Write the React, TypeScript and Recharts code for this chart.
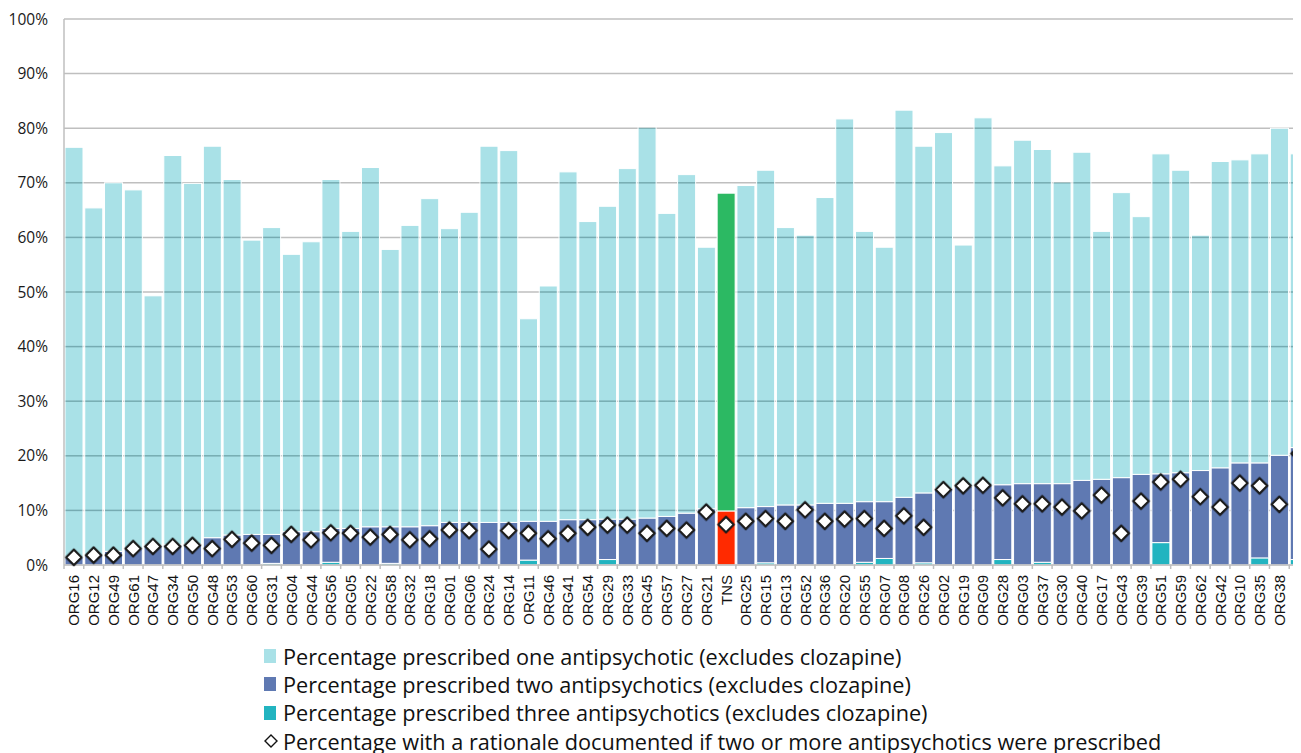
import { Bar, CartesianGrid, Cell, ComposedChart, Line, XAxis, YAxis } from "recharts";

const categories = [
  "ORG16", "ORG12", "ORG49", "ORG61", "ORG47", "ORG34", "ORG50", "ORG48", "ORG53", "ORG60",
  "ORG31", "ORG04", "ORG44", "ORG56", "ORG05", "ORG22", "ORG58", "ORG32", "ORG18", "ORG01",
  "ORG06", "ORG24", "ORG14", "ORG11", "ORG46", "ORG41", "ORG54", "ORG29", "ORG33", "ORG45",
  "ORG57", "ORG27", "ORG21", "TNS", "ORG25", "ORG15", "ORG13", "ORG52", "ORG36", "ORG20",
  "ORG55", "ORG07", "ORG08", "ORG26", "ORG02", "ORG19", "ORG09", "ORG28", "ORG03", "ORG37",
  "ORG30", "ORG40", "ORG17", "ORG43", "ORG39", "ORG51", "ORG59", "ORG62", "ORG42", "ORG10",
  "ORG35", "ORG38", "ORG23",
];

// % prescribed one antipsychotic (excludes clozapine)
const oneAP = [
  75.1, 63.6, 67.5, 65.7, 45.7, 71.3, 66.1, 71.7, 65.1, 53.9,
  56.2, 50.8, 53.1, 63.9, 54.4, 65.8, 50.8, 55.2, 59.9, 53.8,
  56.8, 68.9, 68.1, 37.1, 43.1, 63.7, 54.6, 57.3, 64.2, 71.5,
  55.5, 62.0, 47.9, 58.2, 59.0, 61.6, 50.8, 49.4, 56.0, 70.4,
  49.5, 46.6, 70.9, 63.5, 65.2, 44.2, 67.3, 58.4, 62.9, 61.2,
  55.2, 60.1, 45.4, 52.2, 47.2, 58.6, 55.4, 43.1, 56.1, 55.5,
  56.6, 59.9, 53.8,
];

// % prescribed two antipsychotics (excludes clozapine)
const twoAP = [
  1.4, 1.8, 2.5, 3.0, 3.6, 3.7, 3.8, 5.0, 5.5, 5.6,
  5.3, 6.1, 6.1, 6.2, 6.7, 7.0, 6.7, 7.0, 7.2, 7.8,
  7.8, 7.8, 7.8, 7.1, 8.0, 8.3, 8.3, 7.4, 8.4, 8.6,
  8.9, 9.5, 10.3, 9.9, 10.5, 10.3, 11.0, 11.0, 11.3, 11.3,
  11.1, 10.4, 12.4, 12.8, 14.0, 14.4, 14.6, 13.7, 14.9, 14.4,
  14.9, 15.5, 15.7, 16.0, 16.6, 12.6, 16.9, 17.3, 17.8, 18.7,
  17.4, 20.1, 20.5,
];

// % prescribed three antipsychotics (excludes clozapine)
const threeAP = [
  0, 0, 0, 0, 0, 0, 0, 0, 0, 0,
  0.3, 0, 0, 0.5, 0, 0, 0.3, 0, 0, 0,
  0, 0, 0, 0.9, 0, 0, 0, 1.0, 0, 0,
  0, 0, 0, 0, 0, 0.4, 0, 0, 0, 0,
  0.5, 1.2, 0, 0.4, 0, 0, 0, 1.0, 0, 0.5,
  0, 0, 0, 0, 0, 4.1, 0, 0, 0, 0,
  1.3, 0, 1.0,
];

// % with a rationale documented if two or more antipsychotics prescribed
const rationale = [
  1.4, 1.8, 1.8, 3.0, 3.4, 3.4, 3.6, 3.0, 4.7, 4.0,
  3.6, 5.6, 4.6, 5.9, 5.8, 5.1, 5.6, 4.6, 4.8, 6.4,
  6.3, 2.9, 6.3, 5.8, 4.8, 5.8, 6.9, 7.3, 7.3, 5.8,
  6.7, 6.4, 9.7, 7.4, 8.0, 8.5, 8.0, 10.1, 8.0, 8.4,
  8.5, 6.7, 9.0, 6.9, 13.8, 14.5, 14.6, 12.3, 11.2, 11.2,
  10.6, 9.9, 12.8, 5.8, 11.7, 15.2, 15.7, 12.5, 10.6, 15.0,
  14.5, 11.1, 20.4,
];

const yTicks = [0, 10, 20, 30, 40, 50, 60, 70, 80, 90, 100];

const legendItems = [
  "Percentage prescribed one antipsychotic (excludes clozapine)",
  "Percentage prescribed two antipsychotics (excludes clozapine)",
  "Percentage prescribed three antipsychotics (excludes clozapine)",
  "Percentage with a rationale documented if two or more antipsychotics were prescribed",
];

const LIGHT = "#a9e1e7";
const DARK = "#5f79b2";
const TEAL = "#22b4c0";
const GREEN = "#2cb963";
const RED = "#ff2a00";
const GRID = "#bfbfbf";
const FONT = "'Open Sans', 'Noto Sans', sans-serif";

const CHART_W = 1306;
const Y_W = 56;
const M_RIGHT = 5;
const BAND = (CHART_W - Y_W - M_RIGHT) / categories.length;

const data = categories.map((name, i) => ({
  name,
  one: oneAP[i],
  two: twoAP[i],
  three: threeAP[i],
  rationale: rationale[i],
}));

// light bar, with the grid lines showing through it (as in the original)
function OneShape(props: any) {
  const { x, y, width, height, payload } = props;
  if (!height || height <= 0) return null;
  const isTns = payload.name === "TNS";
  const base = payload.two + payload.three;
  const per = height / payload.one;
  const lines = isTns ? [] : yTicks.filter((v) => v > base && v < base + payload.one);
  return (
    <g>
      <rect x={x} y={y} width={width} height={height} fill={isTns ? GREEN : LIGHT} stroke="#fff" strokeWidth={1} />
      {lines.map((v) => {
        const yy = y + height - (v - base) * per;
        return (
          <line key={v} x1={x + 0.5} x2={x + width - 0.5} y1={yy} y2={yy} stroke="#0c3a40" strokeOpacity={0.32} strokeWidth={1.5} />
        );
      })}
    </g>
  );
}

function Diamond(props: any) {
  const { cx, cy } = props;
  if (cx == null || cy == null) return null;
  const r = 7.6;
  const pts = `${cx},${cy - r} ${cx + r},${cy} ${cx},${cy + r} ${cx - r},${cy}`;
  return (
    <g>
      <polygon points={pts} fill="none" stroke="#000" strokeOpacity={0.25} strokeWidth={3.6} strokeLinejoin="round" />
      <polygon points={pts} fill="#fff" stroke="#1c1c1c" strokeWidth={2} strokeLinejoin="round" />
    </g>
  );
}

function OrgTick(props: any) {
  const { x, y, payload } = props;
  const left = x - BAND / 2;
  return (
    <g>
      <line x1={left} x2={left} y1={y} y2={y + 4} stroke={GRID} strokeWidth={1.5} />
      <text
        x={x}
        y={y + 10}
        transform={`rotate(-90, ${x}, ${y + 10})`}
        textAnchor="end"
        dominantBaseline="central"
        fontSize={15}
        fontFamily="'Liberation Sans', Arial, sans-serif"
        fill="#111"
      >
        {payload.value}
      </text>
    </g>
  );
}

function LegendBox() {
  return (
    <div style={{ position: "absolute", left: 256, top: 634, fontFamily: FONT, fontSize: 21.7, color: "#111" }}>
      {legendItems.map((label, i) => (
        <div key={label} style={{ display: "flex", alignItems: "center", height: 28.3, whiteSpace: "nowrap" }}>
          {i < 3 ? (
            <span style={{ display: "inline-block", width: 12, height: 14, background: [LIGHT, DARK, TEAL][i], marginRight: 7 }} />
          ) : (
            <svg width={14} height={14} style={{ marginRight: 5 }}>
              <polygon points="7,1 13,7 7,13 1,7" fill="#fff" stroke="#111" strokeWidth={1.4} />
            </svg>
          )}
          <span>{label}</span>
        </div>
      ))}
    </div>
  );
}

export default function App() {
  return (
    <div style={{ position: "relative", width: 1293, height: 745, overflow: "hidden", background: "#fff" }}>
      <ComposedChart
        width={CHART_W}
        height={630}
        data={data}
        margin={{ top: 11, right: M_RIGHT, left: 0, bottom: 0 }}
        barCategoryGap={1}
      >
        <CartesianGrid vertical={false} stroke={GRID} strokeWidth={1.5} />
        <XAxis
          dataKey="name"
          interval={0}
          height={73}
          tickLine={false}
          tickSize={0}
          tickMargin={0}
          axisLine={{ stroke: GRID, strokeWidth: 1.5 }}
          tick={<OrgTick />}
        />
        <YAxis
          width={Y_W}
          domain={[0, 100]}
          ticks={yTicks}
          interval={0}
          tickFormatter={(v) => `${v}%`}
          tickLine={false}
          tickSize={0}
          tickMargin={16}
          axisLine={{ stroke: GRID, strokeWidth: 1.5 }}
          tick={{ fontSize: 15.5, fill: "#1a1a1a", fontFamily: FONT }}
        />
        <Bar dataKey="three" stackId="s" fill={TEAL} stroke="#fff" strokeWidth={1} isAnimationActive={false} />
        <Bar dataKey="two" stackId="s" fill={DARK} stroke="#fff" strokeWidth={1} isAnimationActive={false}>
          {data.map((d) => (
            <Cell key={d.name} fill={d.name === "TNS" ? RED : DARK} />
          ))}
        </Bar>
        <Bar dataKey="one" stackId="s" fill={LIGHT} shape={<OneShape />} isAnimationActive={false} />
        <Line
          dataKey="rationale"
          stroke="none"
          dot={<Diamond />}
          activeDot={false}
          legendType="none"
          isAnimationActive={false}
        />
      </ComposedChart>
      <LegendBox />
    </div>
  );
}
